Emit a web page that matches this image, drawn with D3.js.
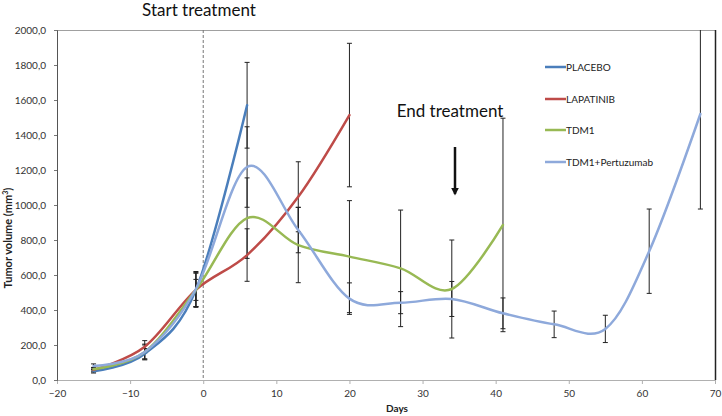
<!DOCTYPE html>
<html>
<head>
<meta charset="utf-8">
<script src="https://cdn.jsdelivr.net/npm/d3@7"></script>
<style>
  html, body { margin: 0; padding: 0; background: #fff; }
  svg { display: block; font-family: Lato, "Open Sans", "DejaVu Sans", sans-serif; }
</style>
</head>
<body>
<svg id="chart" width="722" height="416"></svg>
<script>
// ---- Data ----
const days = [-15, -8, -1, 6, 13, 20, 27, 34, 41, 48, 55, 61, 68];
const seriesNames = ["PLACEBO", "LAPATINIB", "TDM1", "TDM1+Pertuzumab"];
const placeboValues = [50, 150, 515, 1570];
const placeboErrors = [10, 30, 100, 245];
const lapatinibValues = [58, 190, 515, 714, 1047, 1514];
const lapatinibErrors = [12, 35, 95, 150, 200, 410];
const tdm1Values = [62, 160, 515, 925, 771, 705, 638, 520, 886];
const tdm1Errors = [10, 40, 60, 230, 215, 320, 333, 280, 610];
const tdm1PertValues = [80, 160, 520, 1217, 857, 465, 442, 463, 381, 318, 292, 736, 1520];
const tdm1PertErrors = [12, 45, 100, 230, 130, 90, 63, 100, 88, 76, 78, 241, 543];
const xTicks = [-20, -10, 0, 10, 20, 30, 40, 50, 60, 70];
const yTicks = [0, 200, 400, 600, 800, 1000, 1200, 1400, 1600, 1800, 2000];
const seriesColors = ["#4A7EBB", "#BE4B48", "#98B954", "#8EA9DB"];

const allValues = [placeboValues, lapatinibValues, tdm1Values, tdm1PertValues];
const allErrors = [placeboErrors, lapatinibErrors, tdm1Errors, tdm1PertErrors];
const series = seriesNames.map((name, i) => ({
  name, color: seriesColors[i],
  points: allValues[i].map((v, j) => ({ day: days[j], value: v, err: allErrors[i][j] }))
}));

// ---- Layout ----
const svg = d3.select("#chart");
const L = 57, R = 715, T = 30, B = 380;
const x = d3.scaleLinear().domain([-20, 70]).range([L, R]);
const y = d3.scaleLinear().domain([0, 2000]).range([B, T]);
const fmt = v => d3.format(".1f")(v).replace(".", ",");

svg.append("defs").append("clipPath").attr("id", "clip")
  .append("rect").attr("x", L).attr("y", T).attr("width", R - L).attr("height", B - T);

// plot border (top / right)
svg.append("line").attr("x1", L).attr("x2", R).attr("y1", T + 0.5).attr("y2", T + 0.5)
  .attr("stroke", "#a0a0a0").attr("stroke-width", 1);
svg.append("line").attr("x1", R + 0.5).attr("x2", R + 0.5).attr("y1", T).attr("y2", B)
  .attr("stroke", "#222").attr("stroke-width", 1.5);

// axes
const xAxis = svg.append("g").attr("transform", `translate(0,${B})`)
  .call(d3.axisBottom(x).tickValues(xTicks).tickSize(4).tickPadding(6).tickFormat(d3.format("d")));
xAxis.select(".domain").attr("stroke", "#b0b0b0");
xAxis.selectAll(".tick line").attr("stroke", "#b0b0b0");
xAxis.selectAll("text").attr("fill", "#333").style("font-size", "10px")
  .style("font-family", "Lato, 'Open Sans', sans-serif");

const yAxis = svg.append("g").attr("transform", `translate(${L},0)`)
  .call(d3.axisLeft(y).tickValues(yTicks).tickSize(3).tickPadding(8).tickFormat(fmt));
yAxis.select(".domain").attr("stroke", "#555");
yAxis.selectAll(".tick line").attr("stroke", "#777");
yAxis.selectAll("text").attr("fill", "#333").style("font-size", "10px")
  .style("font-family", "Lato, 'Open Sans', sans-serif");

// axis titles
svg.append("text").attr("x", 397).attr("y", 412).attr("text-anchor", "middle")
  .style("font-size", "10px").style("font-weight", "bold").attr("fill", "#222").text("Days");
const yt = svg.append("text").attr("transform", "translate(12,238) rotate(-90)")
  .attr("text-anchor", "middle").style("font-size", "11px").style("font-weight", "bold").attr("fill", "#222");
yt.append("tspan").text("Tumor volume (mm");
yt.append("tspan").attr("dy", -4).style("font-size", "7px").text("3");
yt.append("tspan").attr("dy", 4).text(")");

// start treatment dashed line
svg.append("line").attr("x1", x(0)).attr("x2", x(0)).attr("y1", T).attr("y2", B)
  .attr("stroke", "#777").attr("stroke-width", 1).attr("stroke-dasharray", "3,2");

const plot = svg.append("g").attr("clip-path", "url(#clip)");

// error bars
series.forEach(s => {
  const g = plot.append("g");
  s.points.forEach(p => {
    const cx = x(p.day), y1 = y(p.value + p.err), y2 = y(p.value - p.err);
    g.append("line").attr("x1", cx).attr("x2", cx).attr("y1", y1).attr("y2", y2)
      .attr("stroke", "#222").attr("stroke-width", 1);
    [y1, y2].forEach(yy => g.append("line").attr("x1", cx - 2.5).attr("x2", cx + 2.5)
      .attr("y1", yy).attr("y2", yy).attr("stroke", "#222").attr("stroke-width", 1));
  });
});

// lines
const line = d3.line().x(d => x(d.day)).y(d => y(d.value)).curve(d3.curveCardinal.tension(0));
series.forEach(s => {
  plot.append("path").datum(s.points).attr("d", line)
    .attr("fill", "none").attr("stroke", s.color).attr("stroke-width", 2.5)
    .attr("stroke-linejoin", "round").attr("stroke-linecap", "round");
});

// legend
const lg = svg.append("g");
const legendY = [67, 99, 130, 162];
series.forEach((s, i) => {
  lg.append("line").attr("x1", 545).attr("x2", 566).attr("y1", legendY[i]).attr("y2", legendY[i])
    .attr("stroke", s.color).attr("stroke-width", 2.5);
  lg.append("text").attr("x", 566).attr("y", legendY[i] + 3.5)
    .style("font-size", "10px").attr("fill", "#222").text(s.name);
});

// annotations
svg.append("text").attr("x", 199).attr("y", 16).attr("text-anchor", "middle")
  .style("font-size", "17px").attr("fill", "#111").text("Start treatment");
svg.append("text").attr("x", 450).attr("y", 117).attr("text-anchor", "middle")
  .style("font-size", "17px").attr("fill", "#111").text("End treatment");
svg.append("defs").append("marker").attr("id", "arrow").attr("viewBox", "0 0 10 10")
  .attr("refX", 8).attr("refY", 5).attr("markerWidth", 3.2).attr("markerHeight", 3.2)
  .attr("orient", "auto").append("path").attr("d", "M0,0 L10,5 L0,10 Z").attr("fill", "#111");
svg.append("line").attr("x1", 455).attr("x2", 455).attr("y1", 147).attr("y2", 194)
  .attr("stroke", "#111").attr("stroke-width", 2.5).attr("marker-end", "url(#arrow)");
</script>
</body>
</html>
